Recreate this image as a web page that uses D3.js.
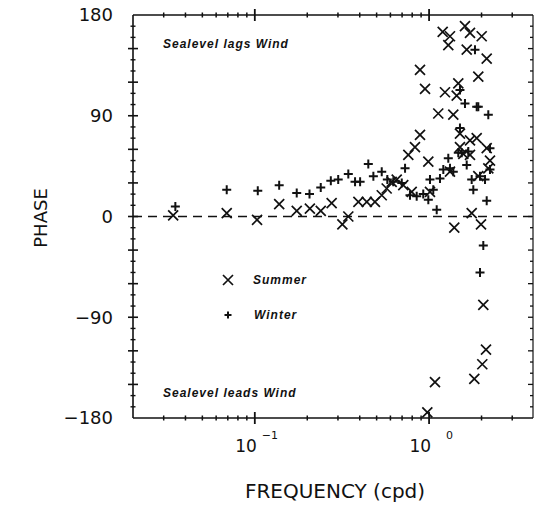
<!DOCTYPE html>
<html>
<head>
<meta charset="utf-8">
<script src="https://cdn.jsdelivr.net/npm/d3@7"></script>
<style>
  html, body { margin: 0; padding: 0; background: #fff; }
  svg { display: block; }
  .num { font-family: "DejaVu Sans", sans-serif; fill: #111; }
  .note { font-family: "Liberation Sans", Arial, sans-serif; font-weight: bold; font-style: italic; fill: #111; }
</style>
</head>
<body>
<svg id="chart" width="534" height="507"></svg>
<script>
// ---------- data ----------
const summerFreq = [0.034, 0.069, 0.103, 0.138, 0.174, 0.207, 0.239, 0.276, 0.318, 0.344,
  0.393, 0.439, 0.489, 0.535, 0.571, 0.610, 0.652, 0.711, 0.795, 0.760,
  0.830, 0.887, 0.887, 0.948, 0.990, 1.012, 1.129, 1.197, 1.318, 1.289,
  1.234, 1.377, 1.318, 1.395, 1.471, 1.440, 1.504, 1.504, 1.572, 1.607,
  1.717, 1.644, 1.717, 1.756, 1.916, 1.876, 2.004, 1.986, 2.141, 2.141,
  2.236, 2.187, 1.717, 1.916, 2.047, 2.121, 2.020, 1.818, 1.081, 0.977];
const summerPhase = [1, 3, -3, 11, 5, 7, 5, 12, -7, 0,
  13, 13, 13, 19, 25, 31, 33, 28, 22, 55,
  62, 73, 131, 114, 49, 22, 92, 165, 161, 153,
  111, 91, 40, -10, 119, 108, 74, 62, 56, 170,
  164, 149, 68, 3, 125, 70, 161, -7, 141, 61,
  50, 43, 55, 36, -79, -119, -132, -145, -148, -175];

const winterFreq = [0.035, 0.069, 0.104, 0.138, 0.174, 0.206, 0.239, 0.273, 0.301, 0.344,
  0.376, 0.402, 0.448, 0.479, 0.535, 0.576, 0.623, 0.697, 0.728, 0.777,
  0.849, 0.926, 0.990, 1.057, 1.012, 1.106, 1.155, 1.207, 1.289, 1.377,
  1.318, 1.471, 1.504, 1.607, 1.504, 1.539, 1.644, 1.679, 1.756, 1.794,
  1.876, 1.916, 1.960, 2.094, 2.141, 2.187, 2.236, 2.236, 1.834, 2.047,
  1.960];
const winterPhase = [9, 24, 23, 28, 21, 20, 26, 32, 33, 38,
  31, 31, 47, 36, 40, 33, 31, 30, 43, 19,
  18, 20, 15, 24, 33, 6, 34, 42, 52, 40,
  43, 57, 79, 101, 113, 57, 46, 58, 33, 24,
  98, 98, 36, 33, 14, 91, 61, 42, 149, -26,
  -50];

const phaseLabels = [180, 90, 0, -90, -180];
const decadeTicks = [0.1, 1];
const decadeExponents = ["\u22121", "0"];
const legendNames = ["Summer", "Winter"];
const notes = ["Sealevel lags Wind", "Sealevel leads Wind"];

// ---------- layout ----------
const svg = d3.select("#chart");
const x = d3.scaleLog().domain([0.02, 4]).range([133, 534]);
const y = d3.scaleLinear().domain([-180, 180]).range([418, 15]);
const xL = 133, xR = 533, yT = y(180), yB = y(-180);
const ink = "#111";

const g = svg.append("g");

// frame lines
g.append("line").attr("x1", xL).attr("x2", xR).attr("y1", yT).attr("y2", yT)
  .attr("stroke", ink).attr("stroke-width", 1.6);
g.append("line").attr("x1", xL).attr("x2", xR).attr("y1", yB).attr("y2", yB)
  .attr("stroke", ink).attr("stroke-width", 1.6);
g.append("line").attr("x1", xL).attr("x2", xL).attr("y1", yT).attr("y2", yB)
  .attr("stroke", ink).attr("stroke-width", 1.6);
g.append("line").attr("x1", xR).attr("x2", xR).attr("y1", yT).attr("y2", yB)
  .attr("stroke", ink).attr("stroke-width", 1.2);

// x ticks (top and bottom), minor + decades
const xt = x.ticks().filter(v => v > 0.02 && v < 4);
xt.forEach(v => {
  const major = decadeTicks.some(d => Math.abs(d - v) < 1e-9);
  const h = major ? 6 : 2.5;
  [yT, yB].forEach(yy => {
    g.append("line").attr("x1", x(v)).attr("x2", x(v)).attr("y1", yy - h).attr("y2", yy + h)
      .attr("stroke", ink).attr("stroke-width", major ? 1.8 : 1.5);
  });
});

// y ticks every 10 deg: left crossing, right inward
const yt = d3.range(-170, 180, 10);
yt.forEach(v => {
  const major = v % 30 === 0;
  const h = major ? 5 : 2.5;
  g.append("line").attr("x1", xL - h).attr("x2", xL + h).attr("y1", y(v)).attr("y2", y(v))
    .attr("stroke", ink).attr("stroke-width", major ? 1.6 : 1.4);
  g.append("line").attr("x1", xR - (major ? 5 : 3)).attr("x2", xR).attr("y1", y(v)).attr("y2", y(v))
    .attr("stroke", ink).attr("stroke-width", 1.3);
});

// zero dashed line
g.append("line").attr("x1", xL).attr("x2", xR).attr("y1", y(0)).attr("y2", y(0))
  .attr("stroke", ink).attr("stroke-width", 1.3).attr("stroke-dasharray", "9,6");

// y labels
phaseLabels.forEach(v => {
  g.append("text").attr("class", "num").attr("x", 113).attr("y", y(v))
    .attr("dy", "0.36em").attr("text-anchor", "end").attr("font-size", 18)
    .text(v < 0 ? "\u2212" + Math.abs(v) : String(v));
});

// x labels 10^k
decadeTicks.forEach((v, i) => {
  g.append("text").attr("class", "num").attr("x", x(v) + 2).attr("y", 452)
    .attr("text-anchor", "end").attr("font-size", 17).text("10");
  g.append("text").attr("class", "num").attr("x", x(v) + (i === 0 ? 7 : 17)).attr("y", 439)
    .attr("text-anchor", "start").attr("font-size", 11).text(decadeExponents[i]);
});

// axis titles
g.append("text").attr("class", "num").attr("x", 335).attr("y", 498)
  .attr("text-anchor", "middle").attr("font-size", 20).text("FREQUENCY (cpd)");
g.append("text").attr("class", "num").attr("transform", "translate(47,218) rotate(-90)")
  .attr("text-anchor", "middle").attr("font-size", 18).text("PHASE");

// notes
g.append("text").attr("class", "note").attr("x", 163).attr("y", 48)
  .attr("font-size", 12).attr("letter-spacing", 1).text(notes[0]);
g.append("text").attr("class", "note").attr("x", 163).attr("y", 397)
  .attr("font-size", 12).attr("letter-spacing", 1).text(notes[1]);

// markers
function cross(sel, cx, cy, r, w) {
  sel.append("path")
    .attr("d", `M${cx - r},${cy - r}L${cx + r},${cy + r}M${cx - r},${cy + r}L${cx + r},${cy - r}`)
    .attr("stroke", ink).attr("stroke-width", w).attr("fill", "none");
}
function plus(sel, cx, cy, r, w) {
  sel.append("path")
    .attr("d", `M${cx - r},${cy}L${cx + r},${cy}M${cx},${cy - r}L${cx},${cy + r}`)
    .attr("stroke", ink).attr("stroke-width", w).attr("fill", "none");
}

const pts = svg.append("g");
summerFreq.forEach((f, i) => cross(pts, x(f), y(summerPhase[i]), 5, 1.7));
winterFreq.forEach((f, i) => plus(pts, x(f), y(winterPhase[i]), 4.5, 2));

// legend
cross(svg, 228, 280, 5, 1.7);
plus(svg, 228, 315, 3.5, 2);
svg.append("text").attr("class", "note").attr("x", 253).attr("y", 284)
  .attr("font-size", 12).attr("letter-spacing", 1).text(legendNames[0]);
svg.append("text").attr("class", "note").attr("x", 254).attr("y", 319)
  .attr("font-size", 12).attr("letter-spacing", 1).text(legendNames[1]);
</script>
</body>
</html>
